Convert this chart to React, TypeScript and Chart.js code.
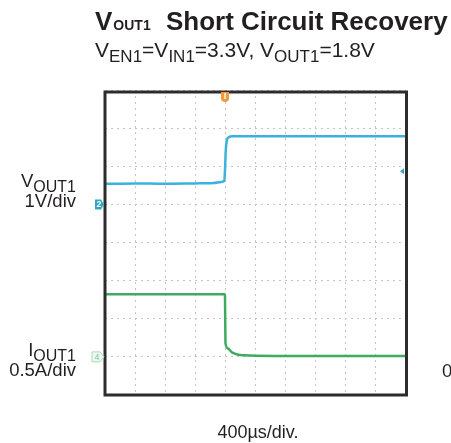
import { useEffect, useRef } from 'react';
import { Chart, registerables } from 'chart.js';

Chart.register(...registerables);

// ---- scope settings ----
const TIME_MAX_US = 4000; // 10 div x 400 us/div
const TIME_STEP_US = 400;
const V_DIVS = 8;
const CH2_GROUND_DIV = 5;
const CH2_V_PER_DIV = 1;
const CH4_GROUND_DIV = 1;
const CH4_A_PER_DIV = 0.5;
const TRIGGER_TIME_US = 1600;
const TRIGGER_LEVEL_V = 0.87;

// ---- VOUT1 trace (channel 2) ----
const voutTimeUs = [0, 400, 800, 1200, 1450, 1550, 1590, 1600, 1610, 1625, 1650, 1700, 2500, 4000];
const voutVolts = [0.54, 0.55, 0.54, 0.55, 0.56, 0.59, 0.61, 0.9, 1.4, 1.68, 1.76, 1.79, 1.79, 1.79];

// ---- IOUT1 trace (channel 4) ----
const ioutTimeUs = [0, 800, 1598, 1600, 1606, 1640, 1690, 1750, 1850, 2300, 4000];
const ioutAmps = [0.82, 0.82, 0.82, 0.8, 0.18, 0.11, 0.06, 0.035, 0.02, 0.012, 0.01];

const FONT = "'Liberation Sans', Arial, Helvetica, sans-serif";

const scopeDecor = {
  id: 'scopeDecor',
  afterDatasetsDraw(chart: any) {
    const { ctx, chartArea: a, scales } = chart;
    const x = scales.x;
    const y = scales.y;
    ctx.save();
    // frame
    ctx.strokeStyle = '#2c2c2c';
    ctx.lineWidth = 3;
    ctx.beginPath();
    ctx.moveTo(a.left, a.top + 2);
    ctx.lineTo(a.right + 1.5, a.top + 2);
    ctx.lineTo(a.right + 1.5, a.bottom);
    ctx.lineTo(a.left, a.bottom);
    ctx.closePath();
    ctx.stroke();

    // trigger position marker (top)
    const tx = x.getPixelForValue(TRIGGER_TIME_US);
    ctx.fillStyle = '#ef9a3c';
    ctx.beginPath();
    ctx.moveTo(tx - 4, a.top + 2);
    ctx.lineTo(tx + 4, a.top + 2);
    ctx.lineTo(tx + 4, a.top + 8);
    ctx.quadraticCurveTo(tx + 4, a.top + 12, tx, a.top + 12);
    ctx.quadraticCurveTo(tx - 4, a.top + 12, tx - 4, a.top + 8);
    ctx.closePath();
    ctx.fill();
    ctx.strokeStyle = '#fbe3c4';
    ctx.lineWidth = 2;
    ctx.beginPath();
    ctx.moveTo(tx, a.top + 3);
    ctx.lineTo(tx, a.top + 9);
    ctx.stroke();

    // channel 2 ground marker
    const g2 = y.getPixelForValue(CH2_GROUND_DIV);
    const l = a.left;
    ctx.fillStyle = '#2fa6c2';
    ctx.beginPath();
    ctx.moveTo(l - 10, g2 - 5);
    ctx.lineTo(l - 4, g2 - 5);
    ctx.lineTo(l - 1, g2);
    ctx.lineTo(l - 4, g2 + 5);
    ctx.lineTo(l - 10, g2 + 5);
    ctx.closePath();
    ctx.fill();
    ctx.fillStyle = '#ffffff';
    ctx.font = `bold 9px ${FONT}`;
    ctx.textAlign = 'center';
    ctx.textBaseline = 'middle';
    ctx.fillText('2', l - 6, g2 + 0.5);

    // channel 4 ground marker
    const g4 = y.getPixelForValue(CH4_GROUND_DIV);
    ctx.fillStyle = '#eef8f1';
    ctx.strokeStyle = '#a6dcb8';
    ctx.lineWidth = 1;
    ctx.beginPath();
    ctx.moveTo(l - 13, g4 - 5);
    ctx.lineTo(l - 5, g4 - 5);
    ctx.lineTo(l - 1, g4);
    ctx.lineTo(l - 5, g4 + 5);
    ctx.lineTo(l - 13, g4 + 5);
    ctx.closePath();
    ctx.fill();
    ctx.stroke();
    ctx.fillStyle = '#86bda3';
    ctx.font = `9px ${FONT}`;
    ctx.fillText('4', l - 8, g4 + 0.5);

    // trigger level marker (right)
    const ty = y.getPixelForValue(CH2_GROUND_DIV + TRIGGER_LEVEL_V / CH2_V_PER_DIV);
    ctx.fillStyle = '#2fa6c2';
    ctx.beginPath();
    ctx.moveTo(a.right - 5, ty);
    ctx.lineTo(a.right - 1, ty - 3);
    ctx.lineTo(a.right - 1, ty + 3);
    ctx.closePath();
    ctx.fill();
    ctx.restore();
  },
};

export default function App() {
  const canvasRef = useRef<HTMLCanvasElement | null>(null);

  useEffect(() => {
    const canvas = canvasRef.current;
    if (!canvas) return;
    const gridOpts = { color: '#c4c4c4', lineWidth: 1, drawTicks: false };
    const chart = new Chart(canvas, {
      type: 'line',
      data: {
        datasets: [
          {
            label: 'VOUT1',
            data: voutTimeUs.map((t, i) => ({ x: t, y: CH2_GROUND_DIV + voutVolts[i] / CH2_V_PER_DIV })),
            borderColor: '#3ab2da',
            borderWidth: 2.5,
            pointRadius: 0,
            cubicInterpolationMode: 'monotone',
          },
          {
            label: 'IOUT1',
            data: ioutTimeUs.map((t, i) => ({ x: t, y: CH4_GROUND_DIV + ioutAmps[i] / CH4_A_PER_DIV })),
            borderColor: '#3fab5e',
            borderWidth: 2.5,
            pointRadius: 0,
            cubicInterpolationMode: 'monotone',
          },
        ],
      },
      options: {
        responsive: false,
        animation: false,
        events: [],
        layout: { padding: { left: 105, right: 46, top: 90, bottom: 48 } },
        plugins: { legend: { display: false }, tooltip: { enabled: false } },
        scales: {
          x: {
            type: 'linear',
            min: 0,
            max: TIME_MAX_US,
            ticks: { display: false, stepSize: TIME_STEP_US },
            grid: gridOpts,
            border: { display: false, dash: [2, 4] },
          },
          y: {
            type: 'linear',
            min: 0,
            max: V_DIVS,
            ticks: { display: false, stepSize: 1 },
            grid: gridOpts,
            border: { display: false, dash: [2, 4] },
          },
        },
      },
      plugins: [scopeDecor],
    } as any);
    return () => chart.destroy();
  }, []);

  const abs = (left: number, top: number, size: number, extra: any = {}) => ({
    position: 'absolute' as const,
    left,
    top,
    fontSize: size,
    lineHeight: 1,
    whiteSpace: 'nowrap' as const,
    fontFamily: FONT,
    color: '#231f20',
    ...extra,
  });
  const sub = (size: number, shift: number) => ({ fontSize: size, position: 'relative' as const, top: shift });

  return (
    <div style={{ position: 'absolute', left: 0, top: 0, width: 451, height: 443, overflow: 'hidden', background: '#fff' }}>
      <canvas ref={canvasRef} width={451} height={443} style={{ position: 'absolute', left: 0, top: 0 }} />
      <div style={abs(95, 30 - 0.8465 * 26, 26, { fontWeight: 'bold' })}>
        V<span style={{ fontSize: 14, marginLeft: 1 }}>OUT1</span>
        <span style={{ marginLeft: 8 }}> Short Circuit Recovery</span>
      </div>
      <div style={abs(95, 57 - 0.8465 * 21, 21)}>
        V<span style={sub(17, 5)}>EN1</span>=V<span style={sub(17, 5)}>IN1</span>=3.3V, V
        <span style={sub(17, 5)}>OUT1</span>=1.8V
      </div>
      <div style={abs(0, 188 - 0.8465 * 18.5, 18.5, { width: 76, textAlign: 'right' })}>
        V<span style={sub(16, 5)}>OUT1</span>
      </div>
      <div style={abs(0, 208 - 0.8465 * 18.5, 18.5, { width: 76, textAlign: 'right' })}>1V/div</div>
      <div style={abs(0, 357 - 0.8465 * 18.5, 18.5, { width: 76, textAlign: 'right' })}>
        I<span style={sub(16, 5)}>OUT1</span>
      </div>
      <div style={abs(0, 377 - 0.8465 * 18.5, 18.5, { width: 76, textAlign: 'right' })}>0.5A/div</div>
      <div style={abs(442, 378 - 0.8465 * 18.5, 18.5)}>0</div>
      <div style={abs(158, 438 - 0.8465 * 18, 18, { width: 200, textAlign: 'center' })}>400µs/div.</div>
    </div>
  );
}
